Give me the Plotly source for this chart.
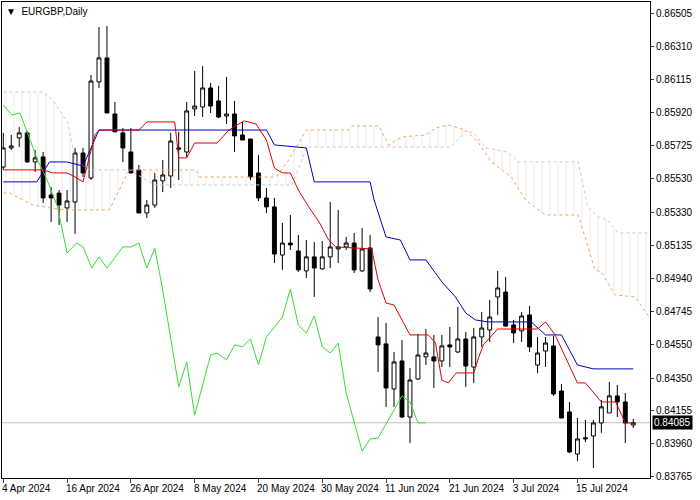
import plotly.graph_objects as go

# daily bars, 4 Apr 2024 .. 24 Jul 2024 (bar index 0..79)
opens = [0.85599, 0.85712, 0.85771, 0.85801, 0.85629, 0.85659, 0.85434, 0.85445, 0.85357, 0.85392,
         0.85682, 0.85534, 0.86103, 0.86245, 0.85913, 0.85801, 0.85688, 0.85582, 0.85327, 0.85374,
         0.85517, 0.85546, 0.85712, 0.85688, 0.85943, 0.85955, 0.86067, 0.85990, 0.85901, 0.85913,
         0.85789, 0.85765, 0.85564, 0.85416, 0.85363, 0.85078, 0.85149, 0.85102, 0.84984, 0.85067,
         0.84996, 0.85067, 0.85114, 0.85126, 0.85149, 0.84984, 0.85120, 0.84593, 0.84552, 0.84285,
         0.84451, 0.84119, 0.84344, 0.84475, 0.84475, 0.84451, 0.84546, 0.84504, 0.84581, 0.84415,
         0.84593, 0.84634, 0.84830, 0.84859, 0.84664, 0.84629, 0.84723, 0.84427, 0.84510, 0.84540,
         0.84273, 0.84149, 0.83900, 0.83989, 0.84007, 0.84084, 0.84143, 0.84244, 0.84208, 0.84072]
highs = [0.85801, 0.85789, 0.85836, 0.85813, 0.85700, 0.85688, 0.85481, 0.85463, 0.85463, 0.85712,
         0.85712, 0.86144, 0.86428, 0.86434, 0.85984, 0.85830, 0.85830, 0.85611, 0.85404, 0.85564,
         0.85641, 0.85801, 0.85807, 0.85984, 0.86168, 0.86197, 0.86097, 0.86079, 0.86132, 0.85990,
         0.85866, 0.85765, 0.85670, 0.85475, 0.85416, 0.85268, 0.85315, 0.85197, 0.85167, 0.85155,
         0.85161, 0.85392, 0.85345, 0.85185, 0.85209, 0.85238, 0.85197, 0.84711, 0.84676, 0.84504,
         0.84575, 0.84409, 0.84611, 0.84640, 0.84605, 0.84605, 0.84652, 0.84771, 0.84623, 0.84646,
         0.84741, 0.84812, 0.84984, 0.84948, 0.84694, 0.84741, 0.84777, 0.84593, 0.84593, 0.84599,
         0.84315, 0.84208, 0.84113, 0.84102, 0.84102, 0.84220, 0.84327, 0.84309, 0.84261, 0.84108]
lows = [0.85582, 0.85700, 0.85718, 0.85623, 0.85570, 0.85386, 0.85274, 0.85256, 0.85274, 0.85203,
        0.85540, 0.85522, 0.86067, 0.85919, 0.85807, 0.85629, 0.85564, 0.85327, 0.85297, 0.85357,
        0.85451, 0.85475, 0.85522, 0.85659, 0.85901, 0.85895, 0.85919, 0.85889, 0.85854, 0.85688,
        0.85759, 0.85522, 0.85398, 0.85327, 0.85031, 0.84990, 0.85108, 0.84978, 0.84942, 0.84830,
        0.84990, 0.85001, 0.85031, 0.85108, 0.84972, 0.84978, 0.84859, 0.84386, 0.84179, 0.84179,
        0.84113, 0.83965, 0.84338, 0.84427, 0.84291, 0.84415, 0.84415, 0.84498, 0.84297, 0.84321,
        0.84534, 0.84563, 0.84723, 0.84652, 0.84557, 0.84563, 0.84504, 0.84380, 0.84415, 0.84244,
        0.84113, 0.83906, 0.83859, 0.83971, 0.83817, 0.84025, 0.84143, 0.84119, 0.83965, 0.84054]
closes = [0.85712, 0.85724, 0.85801, 0.85629, 0.85653, 0.85416, 0.85416, 0.85374, 0.85398, 0.85682,
          0.85564, 0.86108, 0.86245, 0.85919, 0.85807, 0.85712, 0.85564, 0.85327, 0.85374, 0.85522,
          0.85552, 0.85753, 0.85706, 0.85931, 0.85960, 0.86067, 0.85960, 0.85895, 0.85913, 0.85783,
          0.85759, 0.85540, 0.85416, 0.85363, 0.85084, 0.85149, 0.85138, 0.84990, 0.85067, 0.85001,
          0.85067, 0.85126, 0.85126, 0.85149, 0.84990, 0.85114, 0.84877, 0.84546, 0.84291, 0.84445,
          0.84119, 0.84338, 0.84486, 0.84498, 0.84451, 0.84540, 0.84534, 0.84581, 0.84421, 0.84593,
          0.84646, 0.84711, 0.84883, 0.84658, 0.84617, 0.84717, 0.84534, 0.84498, 0.84557, 0.84256,
          0.84113, 0.83912, 0.83989, 0.83995, 0.84084, 0.84179, 0.84244, 0.84208, 0.84084, 0.84085]

# ichimoku lines, (bar index, price) vertices
tenkan_i = [0, 5, 6.2, 8, 9, 10, 11.5, 12, 17, 18, 21.5, 22, 23, 24, 26.8, 28.3, 30.2, 31.7, 33, 34, 35, 36,
            37, 38.3, 39.6, 40.8, 41.7, 46.2, 47, 48, 49, 50, 51, 53.3, 54.2, 55, 55.8, 56.8, 59, 59.6, 60.2,
            62, 67, 68, 69.2, 72, 73, 75, 76.8, 78, 79]
tenkan_p = [0.85582, 0.85582, 0.85564, 0.85564, 0.85540, 0.85511, 0.85789, 0.85818, 0.85818, 0.85866, 0.85866,
            0.85653, 0.85653, 0.85741, 0.85741, 0.85818, 0.85872, 0.85854, 0.85759, 0.85593, 0.85564, 0.85564,
            0.85463, 0.85363, 0.85274, 0.85167, 0.85126, 0.85114, 0.84930, 0.84794, 0.84782, 0.84694, 0.84605,
            0.84605, 0.84557, 0.84338, 0.84321, 0.84380, 0.84380, 0.84469, 0.84546, 0.84640, 0.84640, 0.84682,
            0.84605, 0.84321, 0.84321, 0.84208, 0.84208, 0.84084, 0.84084]
kijun_i = [0, 4.2, 5.8, 8, 10, 12, 33, 34, 38, 39, 46, 46.5, 48, 49.8, 51, 53, 55, 56.7, 58, 59.2, 60.8,
           66.2, 68, 70, 72, 74, 79]
kijun_p = [0.85511, 0.85511, 0.85629, 0.85629, 0.85605, 0.85818, 0.85818, 0.85730, 0.85712, 0.85511, 0.85511,
           0.85404, 0.85185, 0.85167, 0.85049, 0.85049, 0.84919, 0.84830, 0.84735, 0.84694, 0.84682, 0.84682,
           0.84605, 0.84605, 0.84427, 0.84404, 0.84404]
chikou_i = [0, 1.1, 2.1, 4.3, 5.5, 6.8, 8, 9.2, 10, 11.1, 12, 13, 15, 16, 17, 18, 19, 20, 22, 23, 24, 26,
            26.8, 28, 29, 30, 31, 32, 33, 35, 36, 37, 38, 39, 40, 41, 42, 43, 45, 46, 47, 50, 51, 52, 53]
chikou_p = [0.85966, 0.85907, 0.85919, 0.85641, 0.85522, 0.85363, 0.85090, 0.85149, 0.85126, 0.85001, 0.85067,
            0.85001, 0.85126, 0.85126, 0.85149, 0.85001, 0.85120, 0.84871, 0.84297, 0.84445, 0.84131, 0.84486,
            0.84498, 0.84457, 0.84546, 0.84534, 0.84581, 0.84427, 0.84593, 0.84711, 0.84877, 0.84664, 0.84617,
            0.84717, 0.84534, 0.84498, 0.84557, 0.84261, 0.83918, 0.83989, 0.83995, 0.84244, 0.84208, 0.84084,
            0.84085]
span_a_i = [0, 0.8, 3.7, 7.5, 13.3, 15.8, 24.2, 24.6, 34.2, 35.8, 38, 43.3, 43.7, 47.1, 48.3, 50, 53, 54.2,
            55.8, 58, 59.6, 61.2, 63.7, 65.5, 68, 72.1, 74.2, 75, 76.7, 79.2, 81]
span_a_p = [0.85445, 0.85445, 0.85374, 0.85345, 0.85345, 0.85582, 0.85582, 0.85540, 0.85540, 0.85641, 0.85818,
            0.85818, 0.85842, 0.85842, 0.85730, 0.85777, 0.85789, 0.85830, 0.85848, 0.85818, 0.85741, 0.85629,
            0.85540, 0.85404, 0.85315, 0.85315, 0.84990, 0.84978, 0.84842, 0.84830, 0.84711]
span_b_i = [0, 5, 6.2, 8.1, 9, 10.8, 15.8, 19, 36.2, 38.1, 56.2, 58, 59, 60.5, 63.3, 64.6, 72.1, 73.3,
            74.6, 75.8, 77.1, 81]
span_b_p = [0.86043, 0.86043, 0.85996, 0.85860, 0.85641, 0.85582, 0.85582, 0.85493, 0.85493, 0.85718, 0.85718,
            0.85813, 0.85801, 0.85712, 0.85688, 0.85629, 0.85629, 0.85363, 0.85303, 0.85286, 0.85209, 0.85209]

price_ticks = [0.86505, 0.86310, 0.86115, 0.85920, 0.85725, 0.85530, 0.85330, 0.85135,
               0.84940, 0.84745, 0.84550, 0.84350, 0.84155, 0.83960, 0.83765]
date_ticks = [0, 8, 16, 24, 32, 40, 48, 56, 64, 72]
date_labels = ['4 Apr 2024', '16 Apr 2024', '26 Apr 2024', '8 May 2024', '20 May 2024',
               '30 May 2024', '11 Jun 2024', '21 Jun 2024', '3 Jul 2024', '15 Jul 2024']
last_price = 0.84085

fig = go.Figure()

fig.add_trace(go.Scatter(x=span_b_i, y=span_b_p, mode='lines',
                         line=dict(color='#d8bfd8', width=1, dash='dot')))
fig.add_trace(go.Scatter(x=span_a_i, y=span_a_p, mode='lines', fill='tonexty',
                         fillcolor='rgba(0,0,0,0)',
                         fillpattern=dict(shape='|', fgcolor='#d6c6bc', bgcolor='rgba(0,0,0,0)',
                                          size=8, solidity=0.1),
                         line=dict(color='#f4a460', width=1, dash='dot')))

fig.add_shape(type='line', xref='paper', x0=0, x1=1, y0=last_price, y1=last_price,
              line=dict(color='#c0c0c0', width=1), layer='below')

fig.add_trace(go.Scatter(x=chikou_i, y=chikou_p, mode='lines', line=dict(color='#33dd33', width=1)))
fig.add_trace(go.Scatter(x=kijun_i, y=kijun_p, mode='lines', line=dict(color='#0000c0', width=1)))
fig.add_trace(go.Scatter(x=tenkan_i, y=tenkan_p, mode='lines', line=dict(color='#e00000', width=1)))

fig.add_trace(go.Candlestick(
    x=list(range(len(opens))), open=opens, high=highs, low=lows, close=closes,
    increasing=dict(fillcolor='white', line=dict(color='black', width=1)),
    decreasing=dict(fillcolor='black', line=dict(color='black', width=1)),
    whiskerwidth=0))

for i, lab in zip(date_ticks, date_labels):
    fig.add_annotation(x=i, y=0, xref='x', yref='paper', yanchor='top', xanchor='left',
                       text=lab, showarrow=False, xshift=-3, yshift=-3,
                       font=dict(size=10, color='black'))

fig.add_annotation(x=1, y=last_price, xref='paper', yref='y', xanchor='left', yanchor='middle',
                   text=f'{last_price:.5f}', showarrow=False, bgcolor='black', xshift=2,
                   font=dict(size=10, color='white'), borderpad=1)
fig.add_annotation(x=0, y=1, xref='paper', yref='paper', xanchor='left', yanchor='top',
                   text='▼  EURGBP,Daily', showarrow=False, xshift=2, yshift=-2,
                   font=dict(size=10, color='black'))

fig.update_layout(
    width=700, height=500, showlegend=False,
    paper_bgcolor='white', plot_bgcolor='white',
    margin=dict(l=2, r=50, t=2, b=22, autoexpand=False),
    font=dict(family='Liberation Sans, Arial', size=10, color='black'),
    xaxis=dict(range=[-0.16, 81.1], rangeslider=dict(visible=False), showgrid=False, zeroline=False,
               tickvals=date_ticks, showticklabels=False, ticks='outside', ticklen=4,
               showline=True, linecolor='black', mirror=True, automargin=False),
    yaxis=dict(range=[0.83758, 0.86576], side='right', showgrid=False, zeroline=False,
               tickvals=price_ticks, tickformat='.5f', tickfont=dict(size=10),
               ticks='outside', ticklen=3, showline=True, linecolor='black', mirror=True,
               automargin=False),
)

fig.write_html('out.html', config={'displayModeBar': False},
               post_script="document.body.style.margin='0';")
